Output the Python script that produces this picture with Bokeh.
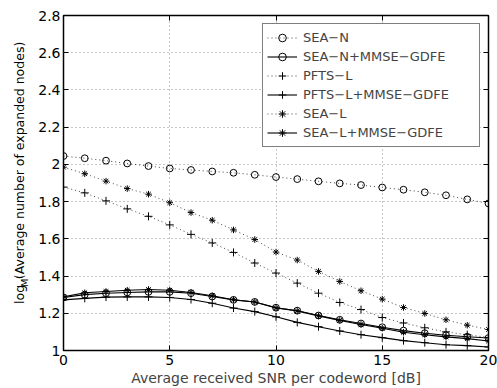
import math
from bokeh.plotting import figure
from bokeh.layouts import row
from bokeh.models import Range1d, FixedTicker, LinearAxis, Legend, LegendItem
from bokeh.core.properties import value
from bokeh.embed import file_html
from bokeh.resources import INLINE

# ---------------- data ----------------
snr = list(range(21))

sea_n = [2.045, 2.033, 2.020, 2.005, 1.991, 1.978, 1.970, 1.962, 1.955, 1.944, 1.932,
         1.921, 1.909, 1.898, 1.889, 1.876, 1.864, 1.850, 1.834, 1.812, 1.790]
sea_n_gdfe = [1.285, 1.300, 1.308, 1.312, 1.315, 1.315, 1.308, 1.290, 1.272, 1.261, 1.230,
              1.214, 1.188, 1.165, 1.145, 1.125, 1.107, 1.093, 1.082, 1.074, 1.067]
pfts_l = [1.878, 1.847, 1.804, 1.761, 1.721, 1.675, 1.624, 1.578, 1.527, 1.470, 1.416,
          1.362, 1.308, 1.258, 1.220, 1.177, 1.148, 1.122, 1.100, 1.085, 1.070]
pfts_l_gdfe = [1.272, 1.280, 1.287, 1.288, 1.288, 1.285, 1.274, 1.254, 1.228, 1.209, 1.181,
               1.151, 1.128, 1.105, 1.085, 1.069, 1.053, 1.042, 1.031, 1.026, 1.019]
sea_l = [1.985, 1.950, 1.910, 1.870, 1.840, 1.794, 1.741, 1.700, 1.648, 1.596, 1.529,
         1.486, 1.425, 1.371, 1.321, 1.276, 1.231, 1.199, 1.165, 1.136, 1.113]
sea_l_gdfe = [1.288, 1.310, 1.317, 1.324, 1.328, 1.324, 1.312, 1.294, 1.273, 1.261, 1.229,
              1.213, 1.186, 1.162, 1.140, 1.120, 1.098, 1.085, 1.073, 1.064, 1.051]

labels = ["SEA\u2212N", "SEA\u2212N+MMSE\u2212GDFE", "PFTS\u2212L",
          "PFTS\u2212L+MMSE\u2212GDFE", "SEA\u2212L", "SEA\u2212L+MMSE\u2212GDFE"]

x_ticks = [0, 5, 10, 15, 20]
y_ticks = [1.0, 1.2, 1.4, 1.6, 1.8, 2.0, 2.2, 2.4, 2.6, 2.8]
y_tick_labels = ["1", "1.2", "1.4", "1.6", "1.8", "2", "2.2", "2.4", "2.6", "2.8"]

x_label = "Average received SNR per codeword [dB]"
y_label_parts = ["log", "M", "(Average number of expanded nodes)"]

FONT = "DejaVu Sans"
FS = "14px"
H = 388
LW = 30  # width of the strip holding the y label

# ---------------- main figure ----------------
p = figure(width=497 - LW, height=H, output_backend="svg", toolbar_location=None,
           x_range=Range1d(0, 20), y_range=Range1d(1, 2.8),
           min_border_left=63 - LW, min_border_right=9, min_border_top=15,
           min_border_bottom=38)
p.background_fill_color = "white"
p.border_fill_color = "white"
p.outline_line_color = "black"
p.outline_line_width = 1.5


def style_axis(ax):
    ax.axis_line_color = None
    ax.major_tick_in = 5
    ax.major_tick_out = 0
    ax.minor_tick_in = 0
    ax.minor_tick_out = 0
    ax.major_tick_line_color = "black"
    ax.major_tick_line_width = 1
    ax.major_label_text_font = FONT
    ax.major_label_text_color = "black"
    ax.major_label_text_font_size = FS


xa = p.xaxis[0]
xa.ticker = FixedTicker(ticks=x_ticks)
style_axis(xa)
xa.major_label_standoff = 4
xa.axis_label = x_label
xa.axis_label_text_font = FONT
xa.axis_label_text_font_size = FS
xa.axis_label_text_font_style = "normal"
xa.axis_label_standoff = 2

ya = p.yaxis[0]
ya.ticker = FixedTicker(ticks=y_ticks)
ya.major_label_overrides = dict(zip(y_ticks, y_tick_labels))
style_axis(ya)
ya.major_label_standoff = 3

top = LinearAxis(ticker=FixedTicker(ticks=x_ticks))
style_axis(top)
top.major_label_overrides = {t: "" for t in x_ticks}
top.major_label_standoff = 0
top.major_label_text_font_size = "1px"
p.add_layout(top, "above")
right = LinearAxis(ticker=FixedTicker(ticks=y_ticks))
style_axis(right)
right.major_label_overrides = {t: "" for t in y_ticks}
right.major_label_standoff = 0
right.major_label_text_font_size = "1px"
p.add_layout(right, "right")

for g in (p.xgrid[0], p.ygrid[0]):
    g.grid_line_color = "#8c8c8c"
    g.grid_line_dash = "1 3"
    g.grid_line_width = 1

# ---------------- series ----------------
series = [
    (sea_n, labels[0], "dotted", "circle", 6.8),
    (sea_n_gdfe, labels[1], "solid", "circle", 6.8),
    (pfts_l, labels[2], "dotted", "cross", 8),
    (pfts_l_gdfe, labels[3], "solid", "cross", 8),
    (sea_l, labels[4], "dotted", "asterisk", 6.5),
    (sea_l_gdfe, labels[5], "solid", "asterisk", 6.5),
]

items = []
for ys, lab, style, marker, size in series:
    if style == "dotted":
        l = p.line(snr, ys, line_color="#444444", line_width=1, line_dash="1 3")
    else:
        l = p.line(snr, ys, line_color="black", line_width=1.1)
    s = p.scatter(snr, ys, marker=marker, size=size, line_color="black",
                  fill_color=None, line_width=1)
    items.append(LegendItem(label=lab, renderers=[l, s]))

legend = Legend(items=items, location="top_right", margin=8,
                label_text_font=FONT, label_text_font_size="13px",
                glyph_width=30, glyph_height=19, label_height=19, label_width=172,
                label_standoff=6, padding=4, spacing=0,
                border_line_color="black", border_line_width=1,
                background_fill_color="white", background_fill_alpha=1)
p.add_layout(legend)

# ---------------- y label strip (log_M subscript) ----------------
q = figure(width=LW, height=H, output_backend="svg", toolbar_location=None,
           x_range=Range1d(0, LW), y_range=Range1d(0, H),
           x_axis_type=None, y_axis_type=None,
           min_border_left=0, min_border_right=0, min_border_top=0, min_border_bottom=0)
q.outline_line_color = None
q.background_fill_color = "white"
q.border_fill_color = "white"
q.grid.visible = False

base_x = 19
start_y = 54
q.text(x=[base_x], y=[start_y], text=[y_label_parts[0]], angle=math.pi / 2,
       text_font=value(FONT), text_font_size="12.5px", text_align="left",
       text_baseline="alphabetic", text_color="black")
q.text(x=[base_x + 4.5], y=[start_y + 19.8], text=[y_label_parts[1]], angle=math.pi / 2,
       text_font=value(FONT), text_font_size="9.5px", text_align="left",
       text_baseline="alphabetic", text_color="black")
q.text(x=[base_x], y=[start_y + 28.6], text=[y_label_parts[2]], angle=math.pi / 2,
       text_font=value(FONT), text_font_size="12.5px", text_align="left",
       text_baseline="alphabetic", text_color="black")

layout = row(q, p, spacing=0)
open("out.html", "w").write(file_html(layout, INLINE))
